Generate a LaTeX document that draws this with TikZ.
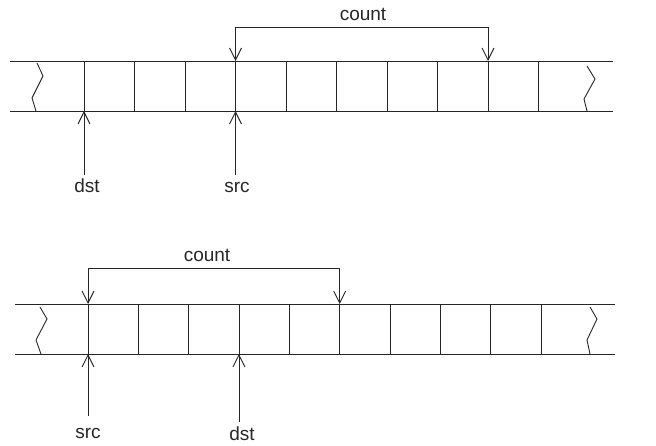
\documentclass[tikz,border=0pt]{standalone}
\usepackage{fontspec}
\setmainfont{Liberation Sans}
\usetikzlibrary{arrows.meta}
\begin{document}
\begin{tikzpicture}[x=1pt, y=-1pt,
                rail/.style={draw=black!85, line width=0.9pt},
                ptr/.style={rail, -{Straight Barb[length=12pt, width=12pt]}},
                span/.style={rail, {Straight Barb[length=12pt, width=12pt]}-{Straight Barb[length=12pt, width=12pt]}},
                lbl/.style={font=\fontsize{19}{22}\selectfont, text=black!85, inner sep=0pt, anchor=base}
            ]
                \useasboundingbox (0,0) rectangle (656,446);
                \draw[rail] (10,61) -- (613,61) (10,111) -- (613,111);
                \foreach \i in {0,...,9}
                    \draw[rail] (84+50.5*\i,61) coordinate (u\i t) -- (84+50.5*\i,111) coordinate (u\i b);
                \draw[rail] (37,63) -- (43,76) -- (32,98) -- (36,111);
                \draw[rail] (587,66) -- (595,79) -- (584,99) -- (587,111);
                \node[lbl] (ucount) at (363,21) {count};
                \node[lbl] (udst) at (87,193) {dst};
                \node[lbl] (usrc) at (237,193) {src};
                \coordinate (ubar) at (0,27);
                \draw[span] (u3t) -- (u3t |- ubar) -- (u8t |- ubar) -- (u8t);
                \draw[ptr] ([yshift=4pt]u0b |- udst.north) -- (u0b);
                \draw[ptr] ([yshift=4pt]u3b |- udst.north) -- (u3b);
                \draw[rail] (15,304) -- (615,304) (15,354) -- (615,354);
                \foreach \i in {0,...,9}
                    \draw[rail] (88+50.33*\i,304) coordinate (l\i t) -- (88+50.33*\i,354) coordinate (l\i b);
                \draw[rail] (40,307) -- (47,319) -- (36,340) -- (41,354);
                \draw[rail] (590,307) -- (597,319) -- (587,340) -- (590,354);
                \node[lbl] (lcount) at (207,262) {count};
                \node[lbl] (lsrc) at (88,438) {src};
                \node[lbl] (ldst) at (242,440) {dst};
                \coordinate (lbar) at (0,268);
                \draw[span] (l0t) -- (l0t |- lbar) -- (l5t |- lbar) -- (l5t);
                \draw[ptr] ([yshift=12pt]l0b |- lsrc.north) -- (l0b);
                \draw[ptr] ([yshift=4pt]l3b |- ldst.north) -- (l3b);
            \end{tikzpicture}
\end{document}
